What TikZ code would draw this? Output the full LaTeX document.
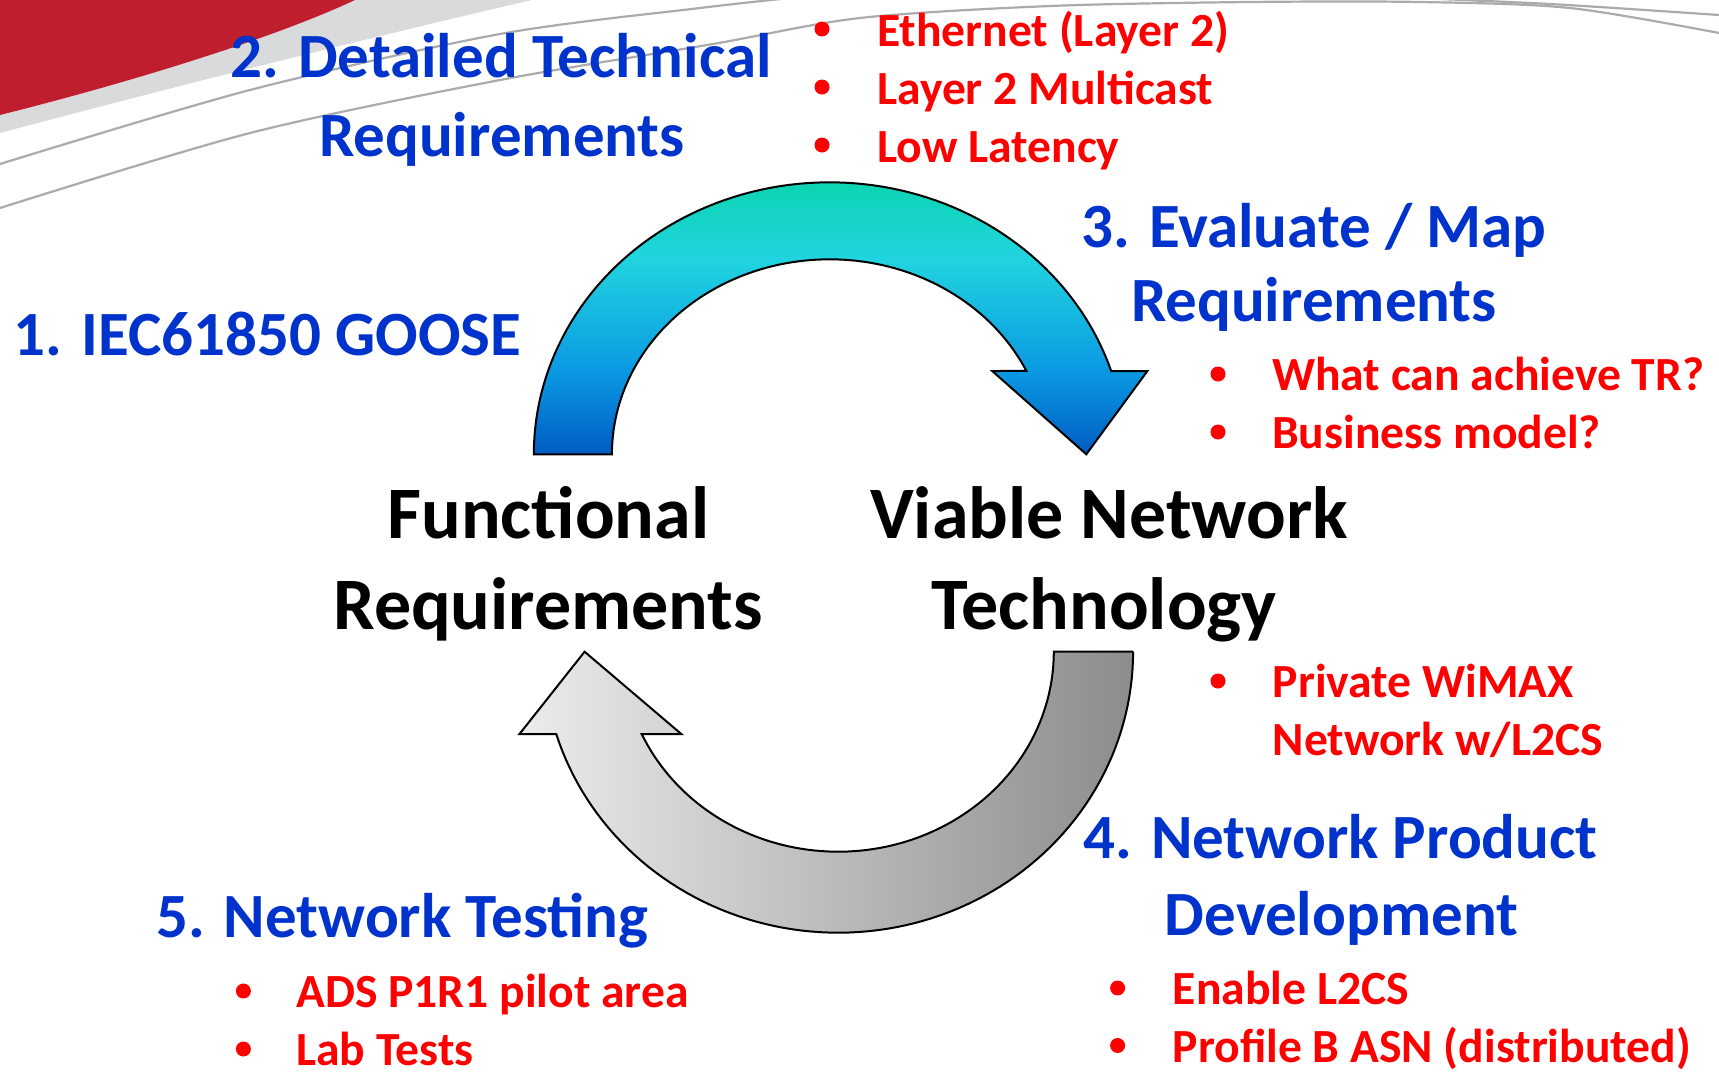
\documentclass[tikz,border=0pt]{standalone}
\usepackage{fontspec}
\setmainfont{Carlito}
\definecolor{swred}{HTML}{BE1E2D}
\definecolor{swgray}{HTML}{D9DADB}
\definecolor{swline}{HTML}{ABABAB}
\definecolor{headblue}{HTML}{0033CC}
\definecolor{listred}{HTML}{FF0000}
\definecolor{arTop}{HTML}{0CD4B2}
\definecolor{arCyan}{HTML}{21D4E0}
\definecolor{arMid}{HTML}{0A98E2}
\definecolor{arBot}{HTML}{005CC2}
\definecolor{grLight}{HTML}{ECECEC}
\definecolor{grDark}{HTML}{8C8C8C}
% colour ramp of the upper (forward) arrow, from bottom to top
\pgfdeclareverticalshading{cycletop}{100bp}{%
  color(0bp)=(arBot); color(25bp)=(arBot); color(40bp)=(arMid);
  color(61bp)=(arCyan); color(75bp)=(arTop); color(100bp)=(arTop)}
\tikzset{
  heading/.style={text=headblue, font=\fontsize{63}{75}\selectfont\bfseries, inner sep=0pt},
  topic/.style={text=black, font=\fontsize{74}{88}\selectfont\bfseries, inner sep=0pt, anchor=base},
  item/.style={text=listred, font=\fontsize{47.6}{56}\selectfont\bfseries, inner sep=0pt, anchor=base west},
  bulletdot/.style={circle, fill=listred, inner sep=0pt, minimum size=15pt},
  arrowbody/.style={draw=black, line width=2pt, line join=miter},
  swoosh/.style={draw=swline, line width=2.2pt, line cap=round},
}
\begin{document}
\begin{tikzpicture}[x=1pt,y=-1pt]
  \useasboundingbox (0,0) rectangle (1719,1074);
  \fill[white] (0,0) rectangle (1719,1074);

  % background swoosh in the upper corners
  \fill[swgray] (0,115) .. controls (120,85) and (270,40) .. (355,0) -- (532,0)
     .. controls (380,35) and (180,85) .. (0,133) -- cycle;
  \fill[swred] (0,0) -- (355,0) .. controls (270,40) and (120,85) .. (0,115) -- cycle;
  \draw[swoosh] plot[smooth] coordinates {(0,164) (250,90) (500,34) (700,8) (800,-3)};
  \draw[swoosh] plot[smooth] coordinates {(0,208) (250,133) (500,80) (713,44) (860,18)
     (1050,6) (1250,2) (1420,2) (1570,8) (1719,33)};
  \draw[swoosh] plot[smooth] coordinates {(1390,-3) (1550,4) (1719,15)};

  % forward arrow: functional requirements -> viable technology
  \shade[shading=cycletop, arrowbody]
    (533.8,454.3)
    -- plot[domain=180:342.2, samples=90, variable=\t] ({829.6+295.8*cos(\t)}, {454.3+272*sin(\t)})
    -- (1147.4,371) -- (1086.3,454.3) -- (992.2,371)
    -- plot[domain=334.7:180, samples=90, variable=\t] ({829.6+217.7*cos(\t)}, {454.3+195*sin(\t)})
    -- cycle;

  % return arrow: technology -> requirements
  \shade[left color=grLight, right color=grDark, arrowbody]
    (1133.1,651.7)
    -- plot[domain=0:162.97, samples=90, variable=\t] ({838.2+294.9*cos(\t)}, {651.7+281*sin(\t)})
    -- (519.5,734) -- (584.6,651.7) -- (681.3,734)
    -- plot[domain=155.7:0, samples=90, variable=\t] ({838.2+215.6*cos(\t)}, {651.7+200*sin(\t)})
    -- cycle;

  % central topics
  \node[topic] (func1) at (548.3,538.3) {Functional};
  \node[topic] (func2) at (548.3,629) {Requirements};
  \node[topic] (tech1) at (1109,538.3) {Viable Network};
  \node[topic] (tech2) at (1104,629) {Technology};

  % step headings
  \node[heading, anchor=base west] (s1) at (13.6,355) {1. IEC61850 GOOSE};
  \node[heading, anchor=base] (s2a) at (501,77) {2. Detailed Technical};
  \node[heading, anchor=base] (s2b) at (502,156) {Requirements};
  \node[heading, anchor=base] (s3a) at (1314,247) {3. Evaluate / Map};
  \node[heading, anchor=base] (s3b) at (1314,321) {Requirements};
  \node[heading, anchor=base] (s4a) at (1340.5,858) {4. Network Product};
  \node[heading, anchor=base] (s4b) at (1341.5,935) {Development};
  \node[heading, anchor=base west] (s5) at (156,937) {5. Network Testing};

  % step 2 items
  \node[bulletdot] (d2a) at (822,29) {};
  \node[bulletdot] (d2b) at (822,87) {};
  \node[bulletdot] (d2c) at (822,145) {};
  \node[item] (t2a) at (877,46) {Ethernet (Layer 2)};
  \node[item] (t2b) at (877,104) {Layer 2 Multicast};
  \node[item] (t2c) at (877,162) {Low Latency};

  % step 3 items
  \node[bulletdot] (d3a) at (1218,374) {};
  \node[bulletdot] (d3b) at (1218,432) {};
  \node[item] (t3a) at (1272,390) {What can achieve TR?};
  \node[item] (t3b) at (1272,448) {Business model?};

  % technology items
  \node[bulletdot] (dva) at (1218,681) {};
  \node[item] (tva) at (1272.6,697) {Private WiMAX};
  \node[item] (tvb) at (1272.6,755) {Network w/L2CS};

  % step 4 items
  \node[bulletdot] (d4a) at (1117.6,988) {};
  \node[bulletdot] (d4b) at (1117.6,1045.5) {};
  \node[item] (t4a) at (1172.7,1004.5) {Enable L2CS};
  \node[item] (t4b) at (1172.7,1062) {Profile B ASN (distributed)};

  % step 5 items
  \node[bulletdot] (d5a) at (243.4,991) {};
  \node[bulletdot] (d5b) at (243.4,1049) {};
  \node[item] (t5a) at (296,1007) {ADS P1R1 pilot area};
  \node[item] (t5b) at (296,1065) {Lab Tests};
\end{tikzpicture}
\end{document}
